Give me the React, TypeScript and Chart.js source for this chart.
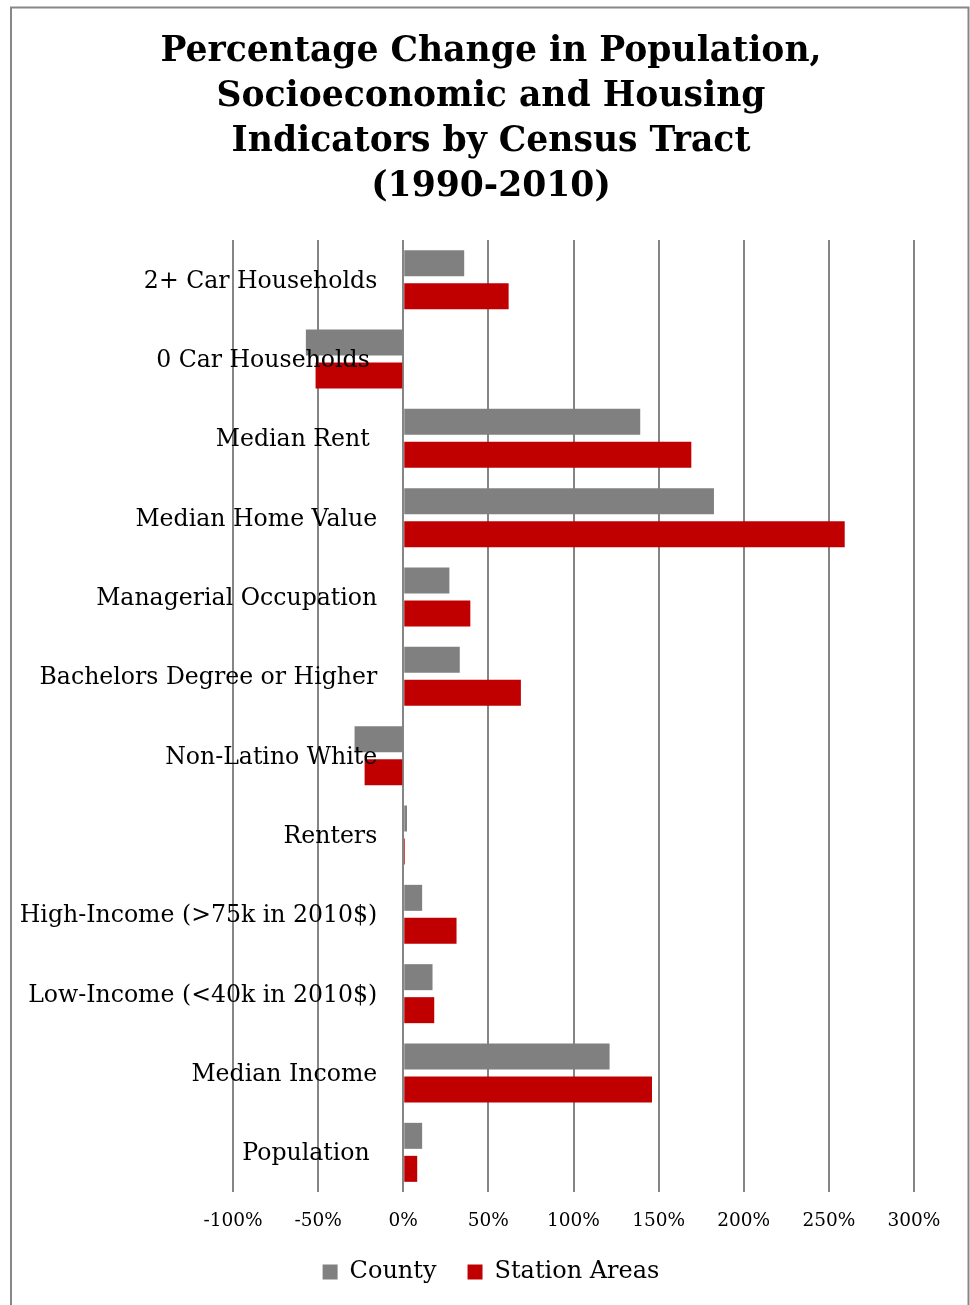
import { useEffect, useRef } from "react";
import { Chart, registerables } from "chart.js";

Chart.register(...registerables);

// Indicator names, top to bottom
const categories = [
  "2+ Car Households",
  "0 Car Households ",
  "Median Rent ",
  "Median Home Value",
  "Managerial Occupation",
  "Bachelors Degree or Higher",
  "Non-Latino White",
  "Renters",
  "High-Income (>75k in 2010$)",
  "Low-Income (<40k in 2010$)",
  "Median Income",
  "Population ",
];

// Percentage change 1990-2010
const countyChange = [35.8, -57.2, 139.2, 182.5, 27.1, 33.2, -28.6, 2.2, 11.1, 17.2, 121.2, 11.1];
const stationChange = [61.9, -51.5, 169.2, 259.3, 39.4, 69.1, -22.7, 1.0, 31.3, 18.2, 146.1, 8.2];

const seriesNames = ["County", "Station Areas"];
const seriesColors = ["#808080", "#C00000"];

const axisMin = -100;
const axisMax = 300;
const axisStep = 50;

const titleLines = [
  "Percentage Change in Population,",
  "Socioeconomic and Housing",
  "Indicators by Census Tract",
  "(1990-2010)",
];

const SERIF = "'DejaVu Serif', 'Liberation Serif', serif";

// Outer frame around the whole figure
const framePlugin = {
  id: "frame",
  beforeDraw(chart: any) {
    const { ctx } = chart;
    ctx.save();
    ctx.strokeStyle = "#878787";
    ctx.lineWidth = 2;
    ctx.strokeRect(11, 7.5, 957.5, 1400);
    ctx.restore();
  },
};

// Category names sit just left of the zero line, over the grid
const categoryLabelPlugin = {
  id: "categoryLabels",
  afterDatasetsDraw(chart: any) {
    const { ctx, scales } = chart;
    const right = scales.x.getPixelForValue(0) - 26;
    ctx.save();
    ctx.font = `23.6px ${SERIF}`;
    ctx.fillStyle = "#000";
    ctx.textAlign = "right";
    ctx.textBaseline = "alphabetic";
    categories.forEach((label, i) => {
      ctx.fillText(label, right, scales.y.getPixelForValue(i) + 8);
    });
    ctx.restore();
  },
};

export default function App() {
  const canvasRef = useRef<HTMLCanvasElement>(null);

  useEffect(() => {
    if (!canvasRef.current) return;
    const chart = new Chart(canvasRef.current, {
      type: "bar",
      data: {
        labels: categories,
        datasets: [
          {
            label: seriesNames[0],
            data: countyChange,
            backgroundColor: seriesColors[0],
            borderWidth: 0,
            barPercentage: 0.788,
            categoryPercentage: 0.832,
            yAxisID: "y",
            xAxisID: "x",
          },
          {
            label: seriesNames[1],
            data: stationChange,
            backgroundColor: seriesColors[1],
            borderWidth: 0,
            barPercentage: 0.788,
            categoryPercentage: 0.832,
            yAxisID: "y",
            xAxisID: "x",
          },
        ],
      },
      options: {
        indexAxis: "y",
        responsive: false,
        maintainAspectRatio: false,
        animation: false,
        layout: { padding: { left: 12, right: 0, top: 0, bottom: 11 } },
        scales: {
          x: {
            type: "linear",
            position: "bottom",
            min: axisMin,
            max: axisMax,
            ticks: {
              stepSize: axisStep,
              callback: (v: any) => `${v}%`,
              font: { family: SERIF, size: 18.5 },
              color: "#000",
              padding: 18,
              maxRotation: 0,
            },
            grid: { color: "#858585", lineWidth: 2, drawTicks: false },
            border: { display: false },
            afterFit: (s: any) => {
              s.height = 37;
            },
          },
          y: {
            type: "category",
            position: "left",
            ticks: { display: false },
            grid: { display: false },
            border: { display: false },
            afterFit: (s: any) => {
              s.width = 221;
            },
          },
          rightGutter: {
            type: "linear",
            position: "right",
            ticks: { display: false },
            grid: { display: false },
            border: { display: false },
            afterFit: (s: any) => {
              s.width = 56;
            },
          },
        },
        plugins: {
          title: {
            display: true,
            text: titleLines,
            color: "#000",
            font: { family: SERIF, size: 34.6, weight: "bold", lineHeight: 45 / 34.6 },
            padding: { top: 30, bottom: 30 },
          },
          legend: {
            position: "bottom",
            labels: {
              color: "#000",
              font: { family: SERIF, size: 24 },
              boxWidth: 15,
              boxHeight: 15,
              padding: 31,
            },
          },
          tooltip: { enabled: false },
        },
      } as any,
      plugins: [framePlugin, categoryLabelPlugin],
    });
    return () => chart.destroy();
  }, []);

  return (
    <div style={{ position: "absolute", left: 0, top: 0, width: 970, height: 1305, background: "#fff" }}>
      <canvas ref={canvasRef} width={970} height={1305} style={{ display: "block", width: 970, height: 1305 }} />
    </div>
  );
}
